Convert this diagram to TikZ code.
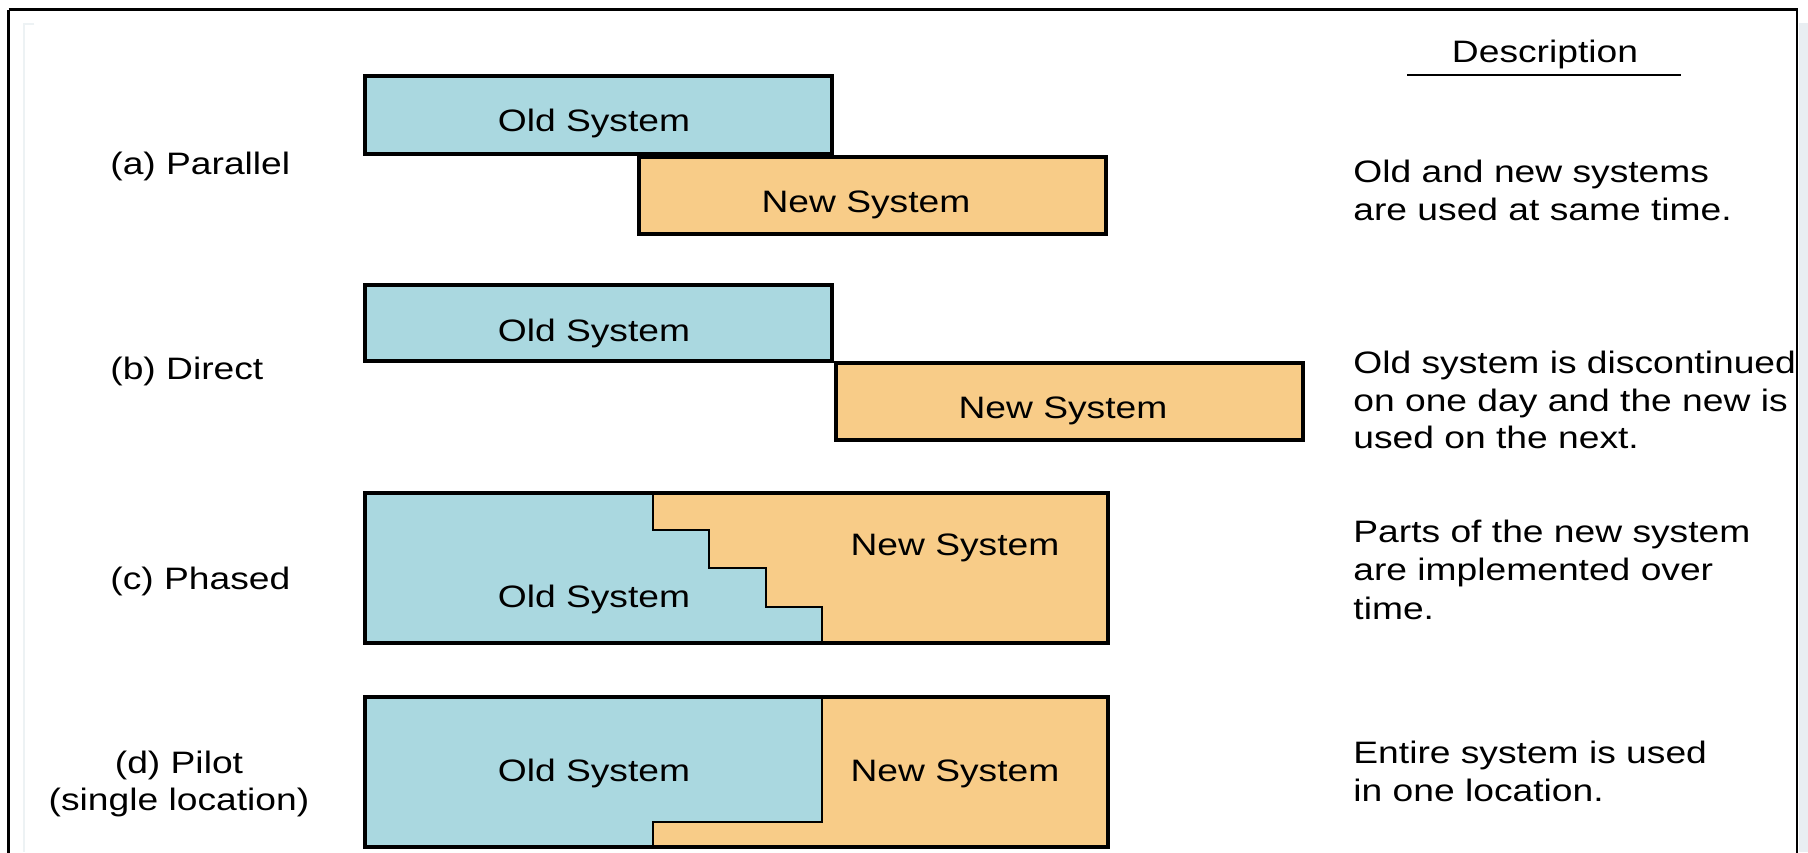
\documentclass[tikz,border=0pt]{standalone}
\usepackage{fontspec}
\setmainfont[FakeStretch=1.2]{Liberation Sans}
\definecolor{oldc}{HTML}{AAD8E0}
\definecolor{newc}{HTML}{F8CC88}
\definecolor{sidec}{HTML}{E9EEF2}
\definecolor{faintc}{HTML}{EDF2F4}
\begin{document}
\begin{tikzpicture}[x=0.5pt,y=-0.5pt,
  txt/.style={inner sep=0pt, font=\fontsize{15.5pt}{19pt}\selectfont},
  oldbox/.style={fill=oldc, draw=black, line width=1.75pt, line join=miter},
  newbox/.style={fill=newc, draw=black, line width=1.75pt, line join=miter},
  oldfill/.style={fill=oldc},
  newfill/.style={fill=newc},
  outline/.style={draw=black, line width=1.6pt, line join=miter},
  stairline/.style={draw=black, line width=1.3pt, line join=miter},
  frameline/.style={draw=black, line width=1.25pt},
  rule/.style={draw=black, line width=1pt}]
\useasboundingbox (0,0) rectangle (1808,852);
\clip (0,0) rectangle (1808,852);
\fill[white] (0,0) rectangle (1808,852);
\draw[faintc, line width=0.6pt] (34,24) -- (24,24) -- (24,852);

% header
\node[txt, anchor=base] (desc) at (1545,62) {Description};
\draw[rule] (1407,75) -- (1681,75);

% (a) Parallel
\node[txt, anchor=base west] (la) at (110,174) {(a) Parallel};
\draw[oldbox] (365,76) rectangle (832,154);
\node[txt, anchor=base] (oa) at (594,131) {Old System};
\draw[newbox] (639,157) rectangle (1106,234);
\node[txt, anchor=base] (na) at (866,212) {New System};
\node[txt, anchor=base west] (da1) at (1353,182) {Old and new systems};
\node[txt, anchor=base west] (da2) at (1353,220) {are used at same time.};

% (b) Direct
\node[txt, anchor=base west] (lb) at (110,379) {(b) Direct};
\draw[oldbox] (365,285) rectangle (832,361);
\node[txt, anchor=base] (ob) at (594,341) {Old System};
\draw[newbox] (836,363) rectangle (1303,440);
\node[txt, anchor=base] (nb) at (1063,418) {New System};
\node[txt, anchor=base west] (db1) at (1353,373) {Old system is discontinued};
\node[txt, anchor=base west] (db2) at (1353,411) {on one day and the new is};
\node[txt, anchor=base west] (db3) at (1353,448) {used on the next.};

% (c) Phased
\node[txt, anchor=base west] (lc) at (110,589) {(c) Phased};
\path[oldfill] (365,493) -- (653,493) -- (653,530) -- (709,530) -- (709,568) -- (766,568)
  -- (766,607) -- (822,607) -- (822,643) -- (365,643) -- cycle;
\path[newfill] (653,493) -- (1108,493) -- (1108,643) -- (822,643) -- (822,607) -- (766,607)
  -- (766,568) -- (709,568) -- (709,530) -- (653,530) -- cycle;
\draw[stairline] (653,493) -- (653,530) -- (709,530) -- (709,568) -- (766,568)
  -- (766,607) -- (822,607) -- (822,643);
\draw[outline] (365,493) rectangle (1108,643);
\node[txt, anchor=base] (nc) at (955,555) {New System};
\node[txt, anchor=base] (oc) at (594,607) {Old System};
\node[txt, anchor=base west] (dc1) at (1353,542) {Parts of the new system};
\node[txt, anchor=base west] (dc2) at (1353,580) {are implemented over};
\node[txt, anchor=base west] (dc3) at (1353,619) {time.};

% (d) Pilot
\node[txt, anchor=base] (ld1) at (179,773) {(d) Pilot};
\node[txt, anchor=base] (ld2) at (179,810) {(single location)};
\path[oldfill] (365,697) -- (822,697) -- (822,822) -- (653,822) -- (653,847) -- (365,847) -- cycle;
\path[newfill] (822,697) -- (1108,697) -- (1108,847) -- (653,847) -- (653,822) -- (822,822) -- cycle;
\draw[stairline] (822,697) -- (822,822) -- (653,822) -- (653,847);
\draw[outline] (365,697) rectangle (1108,847);
\node[txt, anchor=base] (od) at (594,781) {Old System};
\node[txt, anchor=base] (nd) at (955,781) {New System};
\node[txt, anchor=base west] (dd1) at (1353,763) {Entire system is used};
\node[txt, anchor=base west] (dd2) at (1353,801) {in one location.};

% right margin and frame
\fill[sidec] (1799,23) rectangle (1808,852);
\draw[frameline] (8.5,9.5) -- (1797,9.5) -- (1797,870);
\draw[frameline] (8.5,9.5) -- (8.5,870);
\end{tikzpicture}
\end{document}
